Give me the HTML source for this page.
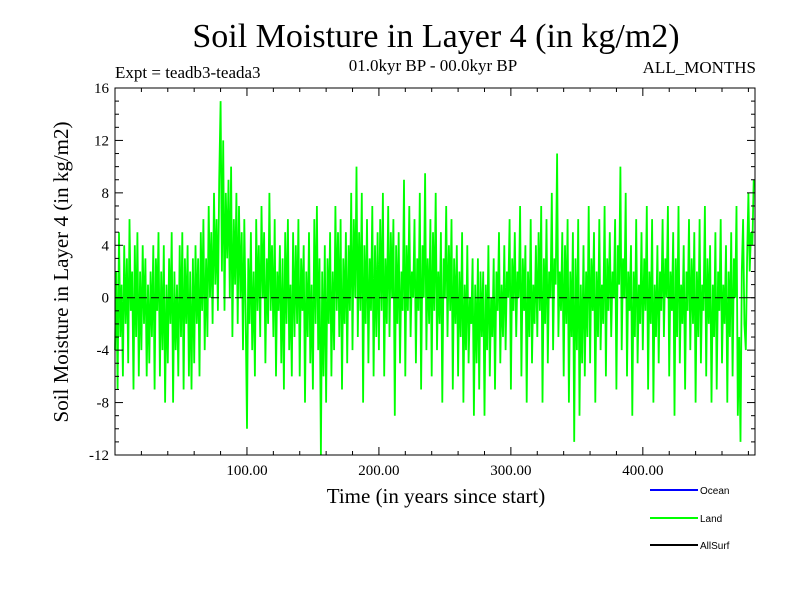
<!DOCTYPE html>
<html><head><meta charset="utf-8"><style>
body{margin:0;background:#fff}
svg{display:block;font-family:"Liberation Serif",serif}
</style></head><body>
<svg id="chart" width="800" height="600">
<text x="436" y="47" font-size="34" text-anchor="middle">Soil Moisture in Layer 4 (in kg/m2)</text>
<text x="115" y="78" font-size="17">Expt = teadb3-teada3</text>
<text x="433" y="71" font-size="17" text-anchor="middle">01.0kyr BP - 00.0kyr BP</text>
<text x="756" y="73" font-size="17" text-anchor="end">ALL_MONTHS</text>
<text transform="translate(68,272) rotate(-90)" font-size="21" text-anchor="middle">Soil Moisture in Layer 4 (in kg/m2)</text>
<text x="436" y="503" font-size="21" text-anchor="middle">Time (in years since start)</text>
<g id="plot"></g>
<g font-family="Liberation Sans, sans-serif" font-size="10">
<line x1="650" y1="490" x2="698" y2="490" stroke="#0000ff" stroke-width="2"/>
<text x="700" y="494">Ocean</text>
<line x1="650" y1="518" x2="698" y2="518" stroke="#00ff00" stroke-width="2"/>
<text x="700" y="522">Land</text>
<line x1="650" y1="545" x2="698" y2="545" stroke="#000" stroke-width="2"/>
<text x="700" y="549">AllSurf</text>
</g>
</svg>
<script>
const yTickLabels=["-12","-8","-4","0","4","8","12","16"];
const yTickValues=[-12,-8,-4,0,4,8,12,16];
const xTickValues=[100,200,300,400];
const xTickLabels=["100.00","200.00","300.00","400.00"];
const landValues=[
-4,2,-7,5,-3,1,-6,4,-2,3,-5,6,-1,2,-7,4,-3,5,-6,2,
-4,4,-2,3,-6,1,-5,2,-3,4,-7,3,-1,5,-6,2,-4,4,-8,1,
-5,3,-2,5,-8,2,-4,1,-6,4,-3,5,-7,3,-2,4,-6,2,-7,3,
-5,4,-2,3,-6,5,-1,6,-4,3,-3,7,0,5,-2,8,1,6,-1,9,
15,2,12,-1,8,3,9,0,10,-3,6,1,8,-2,7,0,5,-4,6,-1,
-10,3,-2,5,-4,2,-6,6,-1,4,-3,7,0,5,-5,3,-2,8,-1,4,
-3,6,-6,2,-1,4,-5,3,-7,5,-2,6,-4,1,-6,5,-3,4,-2,6,
-6,3,-1,4,-8,2,-3,5,-5,1,-7,6,-2,7,-4,3,-12,2,-6,4,
-8,3,-2,5,-6,2,-4,7,-1,5,-3,6,-7,3,-2,5,-5,4,-1,8,
-4,6,0,10,-3,5,-1,8,-8,4,-2,6,-5,3,-1,7,-6,4,-3,5,
-4,6,-1,8,-6,3,-2,7,-3,5,0,6,-9,4,-2,5,-5,2,-1,9,
-6,4,-1,7,-3,2,0,6,-5,3,-1,8,-7,4,0,9.5,-4,3,-2,6,
-6,5,-1,8,-4,2,-2,5,-8,3,0,7,-3,4,-1,6,-7,3,-2,4,
-6,2,-3,5,-8,1,-4,4,-5,0,-2,3,-9,1,-5,3,-7,2,-3,2,
-9,1,-4,4,-6,0,-3,3,-7,2,-1,5,-5,1,-3,4,-4,2,0,6,
-7,3,-1,5,-3,2,0,7,-6,3,-1,4,-8,2,-3,6,-5,1,-2,4,
-3,5,-1,7,-8,3,-2,6,-5,2,0,8,-4,3,1,11,-3,2,-1,5,
-6,4,-2,6,-8,2,-3,5,-11,3,-4,6,-9,1,-5,4,-6,2,-3,7,
-5,3,-1,5,-8,2,-3,6,-4,1,-2,7,-6,3,-1,5,-3,2,0,6,
-7,4,1,10,-4,3,0,8,-6,2,-1,4,-9,2,-3,6,-5,1,-2,5,
-4,3,-1,7,-7,2,-2,6,-8,1,-3,4,-5,2,-1,6,-3,3,0,7,
-6,2,-1,5,-9,3,-3,7,-5,1,-2,4,-7,2,-1,6,-4,3,-2,5,
-8,2,-3,6,-5,1,-1,7,-6,3,-2,4,-8,1,-3,5,-7,2,-1,6,
-5,1,-2,4,-8,2,-3,5,-6,3,0,7,-9,-3,-11,2,6,-2,-4,3,
8,2,5,4,9];
const yearStep=1;
const L=115,R=755,T=88,B=455,xMax=485;
const xs=v=>L+v/xMax*(R-L);
const ys=v=>T+(16-v)/28*(B-T);
const NS="http://www.w3.org/2000/svg";
const g=document.getElementById('plot');
function mk(tag,attrs){const e=document.createElementNS(NS,tag);for(const k in attrs)e.setAttribute(k,attrs[k]);g.appendChild(e);return e;}
let d="";
landValues.forEach((v,i)=>{d+=(i?"L":"M")+xs(i*yearStep).toFixed(1)+","+ys(v).toFixed(1);});
const p=mk('path',{d:d,fill:"none",stroke:"#00ff00","stroke-width":1.8,"stroke-linejoin":"miter","stroke-miterlimit":2});


const z=mk('line',{x1:L,x2:R,y1:ys(0),y2:ys(0),stroke:"#000","stroke-width":1,"stroke-dasharray":"8,4"});


const f=mk('rect',{x:L,y:T,width:R-L,height:B-T,fill:"none",stroke:"#000","stroke-width":1});


for(let v=-12;v<=16;v++){
  const maj=(v%4===0);const len=maj?8:4;
  mk('line',{x1:L,x2:L+len,y1:ys(v),y2:ys(v),stroke:"#000"});
  mk('line',{x1:R,x2:R-len,y1:ys(v),y2:ys(v),stroke:"#000"});
}
yTickValues.forEach((v,i)=>{
  const t=mk('text',{x:L-6,y:ys(v)+5,"font-size":15,"text-anchor":"end"});
  t.textContent=yTickLabels[i];
  
  
});
for(let v=20;v<xMax;v+=20){
  const maj=(v%100===0);const len=maj?8:4;
  mk('line',{x1:xs(v),x2:xs(v),y1:B,y2:B-len,stroke:"#000"});
  mk('line',{x1:xs(v),x2:xs(v),y1:T,y2:T+len,stroke:"#000"});
}
xTickValues.forEach((v,i)=>{
  const t=mk('text',{x:xs(v),y:B+20,"font-size":15,"text-anchor":"middle"});
  t.textContent=xTickLabels[i];
  
  
});
</script>
</body></html>
